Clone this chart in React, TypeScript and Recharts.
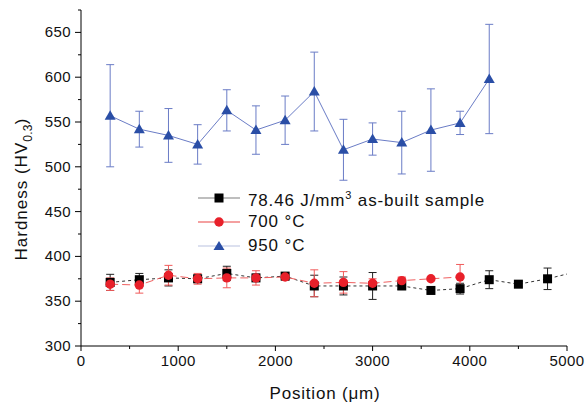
import { LineChart, Line, XAxis, YAxis, ErrorBar, Label } from 'recharts';

const FONT = '"Liberation Sans", Arial, sans-serif';

// x positions in µm
const asBuiltPosition = [300, 600, 900, 1200, 1500, 1800, 2100, 2400, 2700, 3000, 3300, 3600, 3900, 4200, 4500, 4800, 5100];
const asBuiltHardness = [371, 374, 376, 375, 381, 376, 378, 367, 367, 367, 367, 362, 364, 374, 369, 375, 383];
const asBuiltError = [9, 7, 9, 4, 8, 4, 4, 12, 10, 15, 4, 3, 6, 10, 3, 12, 0];

const t700Position = [300, 600, 900, 1200, 1500, 1800, 2100, 2400, 2700, 3000, 3300, 3600, 3900];
const t700Hardness = [369, 368, 379, 375, 376, 376, 377, 370, 371, 370, 373, 375, 377];
const t700Error = [7, 9, 11, 6, 11, 8, 3, 15, 12, 5, 4, 2, 14];

const t950Position = [300, 600, 900, 1200, 1500, 1800, 2100, 2400, 2700, 3000, 3300, 3600, 3900, 4200];
const t950Hardness = [557, 542, 535, 525, 563, 541, 552, 584, 519, 531, 527, 541, 549, 598];
const t950Error = [57, 20, 30, 22, 23, 27, 27, 44, 34, 18, 35, 46, 13, 61];

const xTicks = [0, 500, 1000, 1500, 2000, 2500, 3000, 3500, 4000, 4500, 5000];
const yTicks = [300, 325, 350, 375, 400, 425, 450, 475, 500, 525, 550, 575, 600, 625, 650, 675];

const toRows = (pos: number[], val: number[], err: number[]) =>
  pos.map((p, i) => ({ x: p, y: val[i], err: err[i] }));

const asBuiltData = toRows(asBuiltPosition, asBuiltHardness, asBuiltError);
const t700Data = toRows(t700Position, t700Hardness, t700Error);
const t950Data = toRows(t950Position, t950Hardness, t950Error);

const SquareDot = (props: any) => {
  const { cx, cy, payload, index } = props;
  if (payload.x > 5000) return <g key={index} />;
  return <rect key={index} x={cx - 4.5} y={cy - 4.5} width={9} height={9} fill="#000" />;
};

const CircleDot = (props: any) => {
  const { cx, cy, index } = props;
  return <circle key={index} cx={cx} cy={cy} r={4.7} fill="#e8202a" />;
};

const TriangleDot = (props: any) => {
  const { cx, cy, index } = props;
  return <polygon key={index} points={`${cx},${cy - 5.5} ${cx - 5.5},${cy + 4} ${cx + 5.5},${cy + 4}`} fill="#2a4ea6" />;
};

const YTick = ({ x, y, payload }: any) => {
  const major = payload.value % 50 === 0 && payload.value <= 650;
  return (
    <g>
      <line x1={x} x2={x - (major ? 6 : 3)} y1={y} y2={y} stroke="#000" />
      {major && (
        <text x={x - 10} y={y} dy={5} textAnchor="end" fontSize={15} letterSpacing={0.4} fontFamily={FONT} fill="#111">
          {payload.value}
        </text>
      )}
    </g>
  );
};

const XTick = ({ x, y, payload }: any) => {
  const major = payload.value % 1000 === 0;
  return (
    <g>
      <line x1={x} x2={x} y1={y} y2={y + (major ? 5 : 3)} stroke="#000" />
      {major && (
        <text x={x} y={y + 20} textAnchor="middle" fontSize={15} letterSpacing={0.4} fontFamily={FONT} fill="#111">
          {payload.value}
        </text>
      )}
    </g>
  );
};

const legendItems = [
  { label: <>78.46 J/mm<sup style={{ fontSize: 11 }}>3</sup> as-built sample</>, line: '#a8a8a8', marker: 'square' },
  { label: <>700 °C</>, line: '#f08080', marker: 'circle' },
  { label: <>950 °C</>, line: '#d0d6ea', marker: 'triangle' },
];

const ChartLegend = () => (
  <div
    style={{
      position: 'absolute',
      left: 198,
      top: 186,
      fontFamily: FONT,
      fontSize: 17,
      letterSpacing: 0.85,
      color: '#111',
    }}
  >
    {legendItems.map((item, i) => (
      <div key={i} style={{ display: 'flex', alignItems: 'center', height: 24 }}>
        <svg width={50} height={14}>
          <line x1={0} x2={42} y1={7} y2={7} stroke={item.line} strokeWidth={1.5} />
          {item.marker === 'square' && <rect x={16.5} y={2.5} width={9} height={9} fill="#000" />}
          {item.marker === 'circle' && <circle cx={21} cy={7} r={4.7} fill="#e8202a" />}
          {item.marker === 'triangle' && <polygon points="21,2 15.5,11 26.5,11" fill="#2a4ea6" />}
        </svg>
        <span style={{ whiteSpace: 'nowrap', lineHeight: '20px' }}>{item.label}</span>
      </div>
    ))}
  </div>
);

const YLabel = () => (
  <text
    transform="translate(27, 189) rotate(-90)"
    textAnchor="middle"
    fontSize={17}
    letterSpacing={1}
    fontFamily={FONT}
    fill="#111"
  >
    <tspan>Hardness (HV</tspan>
    <tspan dy={5} fontSize={12} letterSpacing={0.3}>0.3</tspan>
    <tspan dy={-5}>)</tspan>
  </text>
);

export default function App() {
  return (
    <div style={{ position: 'absolute', left: 0, top: 0, width: 587, height: 403, background: '#fff' }}>
      <LineChart width={587} height={403} margin={{ top: 10, right: 20, bottom: 0, left: 0 }}>
        <XAxis
          type="number"
          dataKey="x"
          domain={[0, 5000]}
          allowDataOverflow
          ticks={xTicks}
          interval={0}
          tick={<XTick />}
          tickLine={false}
          tickSize={0}
          tickMargin={0}
          height={57}
          axisLine={{ stroke: '#000' }}
        >
          <Label
            content={() => (
              <text x={325} y={399} textAnchor="middle" fontSize={17} letterSpacing={0.8} fontFamily={FONT} fill="#111">
                Position (μm)
              </text>
            )}
          />
        </XAxis>
        <YAxis
          type="number"
          domain={[300, 675]}
          allowDataOverflow
          ticks={yTicks}
          interval={0}
          tick={<YTick />}
          tickLine={false}
          tickSize={0}
          tickMargin={0}
          width={81}
          axisLine={{ stroke: '#000' }}
        >
          <Label content={() => <YLabel />} />
        </YAxis>
        <Line
          data={asBuiltData}
          dataKey="y"
          name="as-built"
          stroke="#333"
          strokeWidth={1}
          strokeDasharray="3 3"
          dot={SquareDot}
          activeDot={false}
          isAnimationActive={false}
        >
          <ErrorBar dataKey="err" direction="y" width={4} stroke="#222" strokeWidth={1} />
        </Line>
        <Line
          data={t700Data}
          dataKey="y"
          name="700"
          stroke="#f06060"
          strokeWidth={1}
          strokeDasharray="8 4"
          dot={CircleDot}
          activeDot={false}
          isAnimationActive={false}
        >
          <ErrorBar dataKey="err" direction="y" width={4} stroke="#f05a5a" strokeWidth={1} />
        </Line>
        <Line
          data={t950Data}
          dataKey="y"
          name="950"
          stroke="#6a7cc6"
          strokeWidth={1}
          dot={TriangleDot}
          activeDot={false}
          isAnimationActive={false}
        >
          <ErrorBar dataKey="err" direction="y" width={4} stroke="#6a7cc6" strokeWidth={1} />
        </Line>
      </LineChart>
      <ChartLegend />
    </div>
  );
}
